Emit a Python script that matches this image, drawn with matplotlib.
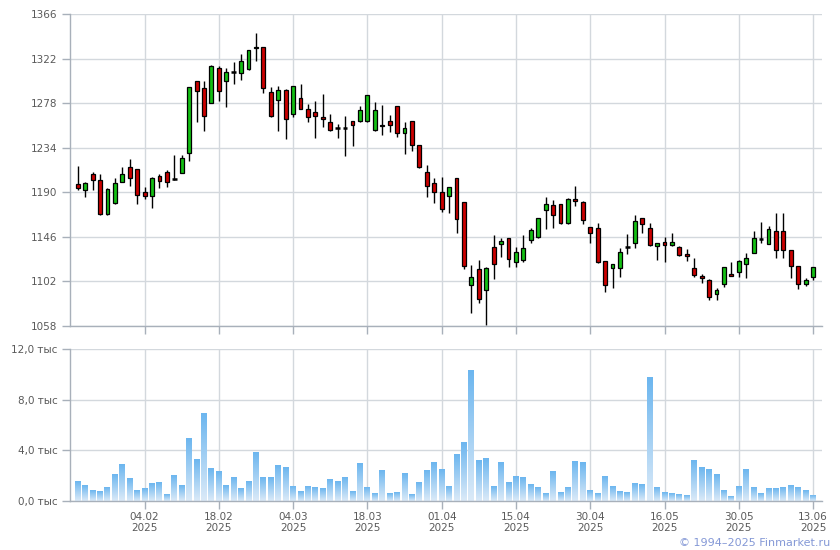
import matplotlib
matplotlib.use('Agg')
import matplotlib.pyplot as plt
import numpy as np
from matplotlib.colors import LinearSegmentedColormap

# ---- data ----
opens = [1198.7, 1192.1, 1208.6, 1202.3, 1168.3, 1179.6, 1200.3, 1215.2, 1213.2, 1190.4,
         1186.2, 1206.6, 1210.2, 1203.5, 1209.3, 1229.1, 1299.9, 1293.0, 1278.8, 1313.1,
         1299.6, 1308.8, 1307.8, 1312.4, 1332.5, 1333.5, 1289.0, 1281.1, 1291.0, 1267.3,
         1283.4, 1272.2, 1269.3, 1264.2, 1259.2, 1253.3, 1253.3, 1260.2, 1260.2, 1260.2,
         1251.3, 1256.5, 1260.2, 1275.0, 1248.3, 1260.2, 1236.5, 1209.8, 1198.9, 1190.0,
         1186.0, 1203.8, 1180.1, 1099.0, 1113.9, 1093.1, 1135.6, 1138.6, 1144.5, 1120.8,
         1122.8, 1142.5, 1145.5, 1172.2, 1177.5, 1178.5, 1159.3, 1183.5, 1180.1, 1155.4,
         1154.4, 1121.8, 1114.9, 1114.9, 1135.6, 1139.6, 1164.3, 1154.4, 1136.6, 1140.6,
         1137.6, 1135.6, 1129.5, 1115.3, 1107.8, 1103.5, 1089.3, 1099.5, 1109.4, 1111.4,
         1119.3, 1130.2, 1144.0, 1139.1, 1152.3, 1152.3, 1133.5, 1117.3, 1099.5, 1106.4]
highs = [1215.9, 1200.0, 1209.9, 1207.9, 1194.0, 1204.6, 1215.2, 1223.1, 1213.5, 1195.1,
         1205.0, 1208.0, 1212.5, 1227.0, 1226.5, 1294.5, 1300.5, 1300.0, 1315.5, 1315.1,
         1312.8, 1318.7, 1326.6, 1331.0, 1347.7, 1333.5, 1294.0, 1295.3, 1291.7, 1295.0,
         1297.3, 1277.5, 1280.1, 1286.9, 1267.1, 1257.6, 1265.5, 1260.5, 1275.4, 1286.0,
         1279.0, 1276.0, 1266.1, 1275.0, 1259.2, 1260.5, 1236.5, 1217.4, 1203.8, 1204.8,
         1195.5, 1204.0, 1180.5, 1117.8, 1123.1, 1116.0, 1147.5, 1144.5, 1145.0, 1135.6,
         1147.5, 1154.4, 1164.5, 1185.1, 1182.4, 1179.0, 1184.0, 1196.3, 1181.4, 1155.5,
         1159.3, 1122.0, 1119.0, 1134.6, 1148.5, 1167.6, 1164.5, 1159.3, 1140.0, 1146.2,
         1149.5, 1137.3, 1134.1, 1125.2, 1109.4, 1104.0, 1095.6, 1116.5, 1121.6, 1123.3,
         1130.2, 1152.3, 1160.8, 1157.2, 1170.1, 1170.1, 1133.5, 1117.5, 1105.5, 1116.5]
lows = [1192.1, 1185.5, 1192.8, 1167.3, 1167.5, 1179.0, 1200.0, 1196.0, 1178.2, 1183.5,
        1174.3, 1194.1, 1195.4, 1202.5, 1209.0, 1221.5, 1260.0, 1251.0, 1278.5, 1280.5,
        1274.8, 1297.6, 1300.6, 1310.5, 1319.4, 1288.7, 1265.0, 1251.1, 1242.6, 1264.7,
        1272.0, 1260.0, 1243.6, 1254.9, 1251.0, 1243.4, 1226.2, 1236.1, 1260.0, 1260.0,
        1251.0, 1246.4, 1250.0, 1244.4, 1227.6, 1230.5, 1214.5, 1185.7, 1180.0, 1170.9,
        1169.2, 1149.5, 1114.5, 1070.4, 1081.2, 1058.5, 1104.0, 1126.4, 1116.5, 1116.5,
        1120.8, 1139.6, 1145.0, 1153.4, 1154.4, 1159.0, 1159.0, 1176.8, 1158.4, 1139.6,
        1120.0, 1091.8, 1096.0, 1106.9, 1129.4, 1135.3, 1150.1, 1137.0, 1123.7, 1120.8,
        1137.0, 1127.0, 1121.9, 1106.4, 1100.5, 1084.0, 1084.0, 1096.6, 1107.0, 1106.0,
        1105.1, 1130.0, 1139.7, 1139.0, 1124.9, 1124.9, 1105.1, 1094.6, 1097.2, 1103.1]
closes = [1194.1, 1199.4, 1202.3, 1168.3, 1193.4, 1199.4, 1208.6, 1204.3, 1187.5, 1186.5,
          1204.3, 1201.0, 1200.0, 1203.5, 1224.1, 1293.7, 1290.0, 1265.3, 1315.1, 1290.0,
          1309.1, 1308.8, 1319.7, 1330.6, 1333.9, 1293.0, 1265.6, 1291.0, 1262.3, 1295.0,
          1272.2, 1264.3, 1265.3, 1262.2, 1251.6, 1253.3, 1253.3, 1256.2, 1271.1, 1285.9,
          1271.1, 1255.5, 1256.2, 1248.3, 1253.3, 1236.5, 1214.7, 1196.6, 1190.0, 1173.2,
          1195.0, 1163.3, 1117.5, 1106.0, 1084.2, 1115.8, 1118.8, 1141.5, 1123.8, 1130.7,
          1134.6, 1152.4, 1164.3, 1178.1, 1167.3, 1159.3, 1183.1, 1182.0, 1162.3, 1149.5,
          1121.4, 1099.0, 1118.8, 1131.0, 1135.6, 1161.3, 1158.4, 1137.6, 1139.6, 1137.6,
          1140.6, 1127.7, 1126.9, 1108.1, 1105.1, 1086.3, 1093.9, 1116.3, 1107.1, 1122.3,
          1125.2, 1145.0, 1144.0, 1154.2, 1133.1, 1133.1, 1117.3, 1099.5, 1103.8, 1116.3]
volumes = [1580, 1260, 870, 790, 1030, 2130, 2920, 1810, 870, 950,
           1420, 1500, 550, 2050, 1260, 4970, 3310, 6940, 2600, 2370,
           1260, 1890, 950, 1580, 3870, 1890, 1890, 2840, 2680, 1180,
           790, 1180, 1100, 950, 1740, 1580, 1890, 790, 3000, 1100,
           630, 2450, 630, 710, 2210, 550, 1500, 2450, 3080, 2520,
           1180, 3710, 4660, 10340, 3230, 3390, 1180, 3080, 1500, 1970,
           1890, 1340, 1100, 630, 2370, 710, 1100, 3160, 3080, 870,
           630, 1970, 1180, 790, 710, 1420, 1340, 9780, 1100, 710,
           630, 550, 470, 3230, 2680, 2520, 2130, 870, 390, 1180,
           2520, 1030, 630, 950, 950, 1100, 1260, 1100, 870, 470]
date_tick_pos = [9, 19, 29, 39, 49, 59, 69, 79, 89, 99]
date_tick_labels = ['04.02\n2025', '18.02\n2025', '04.03\n2025', '18.03\n2025', '01.04\n2025',
                    '15.04\n2025', '30.04\n2025', '16.05\n2025', '30.05\n2025', '13.06\n2025']
price_ticks = [1058, 1102, 1146, 1190, 1234, 1278, 1322, 1366]
vol_ticks = [0, 4000, 8000, 12000]
vol_tick_labels = ['0,0 тыс', '4,0 тыс', '8,0 тыс', '12,0 тыс']

GREEN = '#14c014'
RED = '#cc0000'
GRID = '#d3d8dd'
SPINE = '#a8b0ba'
LABEL = '#5a5a5a'

plt.rcParams['font.family'] = ['DejaVu Sans']

fig = plt.figure(figsize=(8.4, 5.5), dpi=100)
L, R = 70 / 840, 822 / 840
ax = fig.add_axes([L, 1 - 326 / 550, R - L, (326 - 14.3) / 550])
axv = fig.add_axes([L, 1 - 501 / 550, R - L, (501 - 349.3) / 550])

n = len(opens)
xs = np.arange(n)

for a in (ax, axv):
    a.set_xlim(-1.04, 100.2)
    for s in ('top', 'right'):
        a.spines[s].set_visible(False)
    for s in ('left', 'bottom'):
        a.spines[s].set_color(SPINE)
        a.spines[s].set_linewidth(1.0)
    a.set_xticks(date_tick_pos)
    a.grid(True, color=GRID, linewidth=1.0)
    a.set_axisbelow(True)
    a.tick_params(axis='both', colors=SPINE, length=6, width=1, labelcolor=LABEL,
                  labelsize=7.5, pad=3)

# ---- candles ----
ax.vlines(xs, lows, highs, color='black', linewidth=1.0, zorder=2)
bw = 0.52
for i in range(n):
    o, c = opens[i], closes[i]
    if abs(c - o) < 0.3:
        ax.hlines(o, i - bw / 2 - 0.05, i + bw / 2 + 0.05, color='black', linewidth=1.8, zorder=3)
    else:
        col = GREEN if c > o else RED
        ax.bar(i, abs(c - o), bottom=min(o, c), width=bw, color=col,
               edgecolor='black', linewidth=0.9, zorder=3)

ax.set_ylim(1058, 1366)
ax.set_yticks(price_ticks)
ax.set_yticklabels([str(t) for t in price_ticks])
ax.tick_params(axis='x', labelbottom=False)

# ---- volume with per-bar gradient ----
cmap = LinearSegmentedColormap.from_list('vol', ['#dbeaf8', '#6cb6ef'])
grad = np.linspace(0, 1, 64).reshape(-1, 1)
vw = 0.8
for i, v in enumerate(volumes):
    axv.imshow(grad, cmap=cmap, origin='lower', aspect='auto',
               extent=[i - vw / 2, i + vw / 2, 0, v], interpolation='bilinear', zorder=2)
axv.set_xlim(-1.04, 100.2)
axv.set_ylim(0, 12000)
axv.set_yticks(vol_ticks)
axv.set_yticklabels(vol_tick_labels)
axv.set_xticklabels(date_tick_labels, linespacing=1.1)
axv.tick_params(axis='x', pad=2)

fig.text(830 / 840, 1 - 546 / 550, '© 1994–2025 Finmarket.ru', ha='right', va='baseline',
         color='#8498d6', fontsize=8)

fig.savefig('out.png', dpi=100)
